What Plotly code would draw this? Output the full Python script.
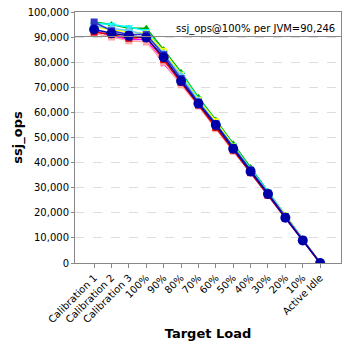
import plotly.graph_objects as go

categories = ["Calibration 1", "Calibration 2", "Calibration 3", "100%", "90%", "80%", "70%",
              "60%", "50%", "40%", "30%", "20%", "10%", "Active Idle"]

jvm_green = [96000, 95000, 93500, 93500, 85000, 76000, 66000, 57000, 47500, 38000, 28500, 19000, 9500, 0]
jvm_cyan = [95500, 95000, 94000, 92500, 84000, 75500, 65500, 56500, 47000, 37500, 28500, 19000, 9500, 0]
jvm_yellow = [94000, 93000, 92000, 91500, 84500, 75000, 65000, 56500, 46500, 37000, 28000, 19000, 9300, 0]
jvm_lightblue = [94500, 93500, 92500, 91000, 83500, 74500, 64500, 55500, 46000, 37000, 28000, 18500, 9200, 0]
jvm_navy = [96000, 92500, 91000, 91000, 83000, 73500, 64000, 55500, 46000, 37000, 27800, 18500, 9200, 0]
jvm_magenta = [92500, 90500, 89000, 89000, 79500, 71500, 63000, 54000, 45000, 36000, 27000, 18000, 9000, 0]
jvm_pink = [91500, 90000, 88500, 88000, 80000, 71000, 62500, 53500, 44500, 36000, 27000, 18000, 8800, 0]
jvm_red = [92000, 91000, 89500, 90000, 81000, 72000, 63000, 54000, 45000, 36000, 27000, 18000, 9000, 0]
jvm_mean = [93000, 91500, 90500, 89800, 82000, 72500, 63500, 55000, 45500, 36500, 27500, 18000, 9000, 0]

ref_value = 90246

series = [
    (jvm_green, "#00aa00", "triangle-up", 7),
    (jvm_cyan, "#00ffff", "triangle-down", 7),
    (jvm_yellow, "#ffff00", "square", 6),
    (jvm_lightblue, "#66ccff", "diamond", 7),
    (jvm_navy, "#3333cc", "square", 7),
    (jvm_magenta, "#ff00ff", "x", 6),
    (jvm_pink, "#ffaaaa", "square", 7),
    (jvm_red, "#dd0000", "square", 7),
    (jvm_mean, "#0000aa", "circle", 10),
]

fig = go.Figure()
for vals, color, sym, size in series:
    fig.add_trace(go.Scatter(
        x=categories, y=vals, mode="lines+markers",
        line=dict(color=color, width=1.5),
        marker=dict(symbol=sym, size=size, color=color),
        showlegend=False,
    ))

fig.add_hline(y=ref_value, line=dict(color="#888888", width=1.2))
fig.add_annotation(x=1, xref="paper", y=ref_value, yref="y", xanchor="right", yanchor="bottom",
                   text="ssj_ops@100% per JVM=90,246", showarrow=False,
                   font=dict(family="DejaVu Sans", size=10, color="#000000"), xshift=-4, yshift=-1)

fig.update_layout(
    width=348, height=348,
    margin=dict(l=75, r=7, t=6, b=85),
    paper_bgcolor="white", plot_bgcolor="white",
    font=dict(family="DejaVu Sans", size=10, color="#000000"),
    xaxis=dict(
        type="category", range=[-1.1, 14.2], tickangle=-45,
        showgrid=False, ticks="outside", ticklen=4, tickcolor="#888888",
        showline=True, linecolor="#888888", mirror=True,
        title=dict(text="<b>Target Load</b>", font=dict(size=13), standoff=4),
        tickfont=dict(size=10),
    ),
    yaxis=dict(
        range=[0, 100000], tickvals=list(range(0, 100001, 10000)),
        tickformat=",", showgrid=True, gridcolor="#dddddd", griddash="dash",
        showline=True, linecolor="#888888", mirror=True, zeroline=False,
        ticks="outside", ticklen=3, tickcolor="#888888",
        title=dict(text="<b>ssj_ops</b>", font=dict(size=13), standoff=2),
        tickfont=dict(size=10),
    ),
)

fig.write_html("out.html")
